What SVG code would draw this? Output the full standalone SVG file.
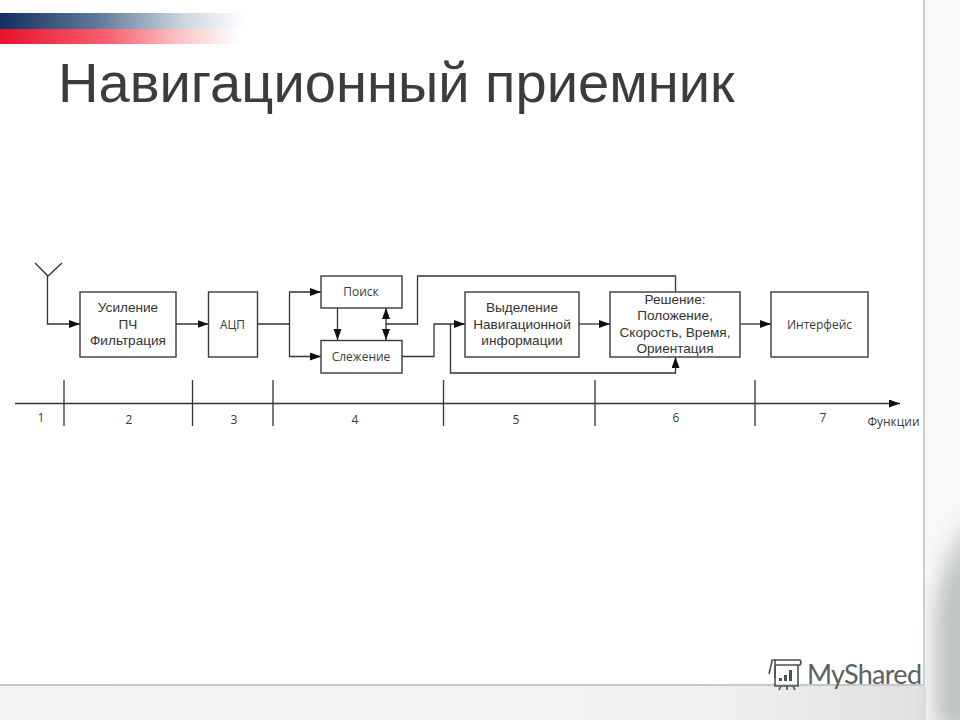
<svg xmlns="http://www.w3.org/2000/svg" width="960" height="720" viewBox="0 0 960 720">
<style>
.box{fill:#fff;stroke:#3a3a3a;stroke-width:1.4}
.ln{fill:none;stroke:#333;stroke-width:1.3}
.t{font-family:"Liberation Sans",Arial,sans-serif;font-size:13.6px;fill:#333;text-anchor:middle}
.n{font-family:"Open Sans","DejaVu Sans",sans-serif;font-size:12px;fill:#3a3a3a;text-anchor:middle}
</style>
<defs>
<marker id="a" markerUnits="userSpaceOnUse" markerWidth="13" markerHeight="9" refX="11" refY="4" orient="auto-start-reverse"><path d="M0 0L11 4L0 8Z" fill="#111"/></marker>
<linearGradient id="bl" x1="0" x2="1"><stop offset="0" stop-color="#12305f"/><stop offset=".4" stop-color="#5f7a9a"/><stop offset=".75" stop-color="#cdd6df"/><stop offset="1" stop-color="#fff"/></linearGradient>
<linearGradient id="rd" x1="0" x2="1"><stop offset="0" stop-color="#e8112d"/><stop offset=".45" stop-color="#f8606f"/><stop offset=".75" stop-color="#fcc4c8"/><stop offset="1" stop-color="#fff"/></linearGradient>
<linearGradient id="sb" x1="0" x2="1"><stop offset="0" stop-color="#f4f4f4"/><stop offset=".75" stop-color="#f1f2f2"/><stop offset="1" stop-color="#dfe1e2"/></linearGradient>
<filter id="blur" x="-50%" y="-50%" width="200%" height="200%"><feGaussianBlur stdDeviation="11"/></filter>
<clipPath id="strip"><path d="M925 0H960V720H0V686H925Z"/></clipPath>
</defs>
<rect width="960" height="720" fill="#fff"/>
<g id="background">
<rect x="924" y="0" width="36" height="720" fill="#f8f8f8"/>
<rect x="0" y="686" width="926" height="34" fill="url(#sb)"/>
<g clip-path="url(#strip)"><path d="M936 730V610Q942 560 975 515V730Z" fill="#bcc0c1" filter="url(#blur)"/></g>
<path d="M924 0V685H0" fill="none" stroke="#b4b8b8" stroke-width="1.3"/>
<rect x="0" y="13" width="245" height="16" fill="url(#bl)"/>
<rect x="0" y="29" width="240" height="15" fill="url(#rd)"/>
</g>
<text id="title" x="58" y="102" font-family="'Liberation Sans',Arial,sans-serif" font-size="56.1" fill="#3c3c3c">Навигационный приемник</text>
<g id="connectors" class="conn">
<path class="ln" d="M35 263L48 276L62 263M47.500 276V324H80" marker-end="url(#a)"/>
<path class="ln" d="M176 324H208.500" marker-end="url(#a)"/>
<path class="ln" d="M257.500 324H289.500V292H321" marker-end="url(#a)"/>
<path class="ln" d="M289.500 324V356.500H321" marker-end="url(#a)"/>
<path class="ln" d="M337.500 308V340" marker-end="url(#a)"/>
<path class="ln" d="M386 308V340" marker-start="url(#a)" marker-end="url(#a)"/>
<path class="ln" d="M386 324H417.500V276H675.500V292"/>
<path class="ln" d="M402 356.500H434V324H465" marker-end="url(#a)"/>
<path class="ln" d="M450.500 324V373H675.500V357" marker-end="url(#a)"/>
<path class="ln" d="M579 324H610" marker-end="url(#a)"/>
<path class="ln" d="M740 324H771" marker-end="url(#a)"/>
<path class="ln" d="M15 403.500H900" marker-end="url(#a)"/>
<path class="ln" d="M64 380V426M192.500 380V426M273 380V426M443.500 380V426M595 380V426M755 380V426"/>
</g>
<g id="n-usilenie"><rect class="box" x="80" y="292" width="96" height="65"/><text class="t" x="128" y="312">Усиление</text><text class="t" x="128" y="329">ПЧ</text><text class="t" x="128" y="345">Фильтрация</text></g>
<g id="n-adc"><rect class="box" x="208.500" y="292" width="49" height="65"/><text class="n" x="232.500" y="328.500">АЦП</text></g>
<g id="n-poisk"><rect class="box" x="321" y="276" width="81" height="32"/><text class="n" x="361" y="296">Поиск</text></g>
<g id="n-slezhenie"><rect class="box" x="321" y="340.500" width="81" height="32.500"/><text class="n" x="361" y="360.500">Слежение</text></g>
<g id="n-vydelenie"><rect class="box" x="465" y="292" width="114" height="65"/><text class="t" x="522" y="312">Выделение</text><text class="t" x="522" y="328.500">Навигационной</text><text class="t" x="522" y="345">информации</text></g>
<g id="n-reshenie"><rect class="box" x="610" y="292" width="130" height="65"/><text class="t" x="675" y="304">Решение:</text><text class="t" x="675" y="320">Положение,</text><text class="t" x="675" y="337">Скорость, Время,</text><text class="t" x="675" y="353">Ориентация</text></g>
<g id="n-interface"><rect class="box" x="771" y="292" width="97" height="65"/><text class="n" x="819.500" y="328.500">Интерфейс</text></g>
<g id="axis-labels">
<text class="n" x="41" y="422">1</text><text class="n" x="129" y="423.500">2</text><text class="n" x="234" y="423.500">3</text><text class="n" x="355" y="423.500">4</text><text class="n" x="516" y="423.500">5</text><text class="n" x="676" y="421.500">6</text><text class="n" x="823" y="421.500">7</text><text class="n" x="893.500" y="426">Функции</text>
</g>
<g id="logo">
<g fill="none" stroke="#4a5250" stroke-width="1.600">
<path d="M772 661Q771 660 773 660H800Q802 662 800 665H776"/><path d="M772 661L769 674M775 660V678"/><path d="M775 665V686H798V665"/><path d="M781 686L779 690M787 686V690M793 686L795 690"/>
</g>
<path d="M779 678h3v3h-3zM784 675h3v6h-3zM789 670h3v11h-3z" fill="#4a5250"/>
<text x="807" y="684" font-family="Lato,'Open Sans',sans-serif" font-size="27" fill="#5a6260" textLength="115">MyShared</text>
</g>
</svg>
